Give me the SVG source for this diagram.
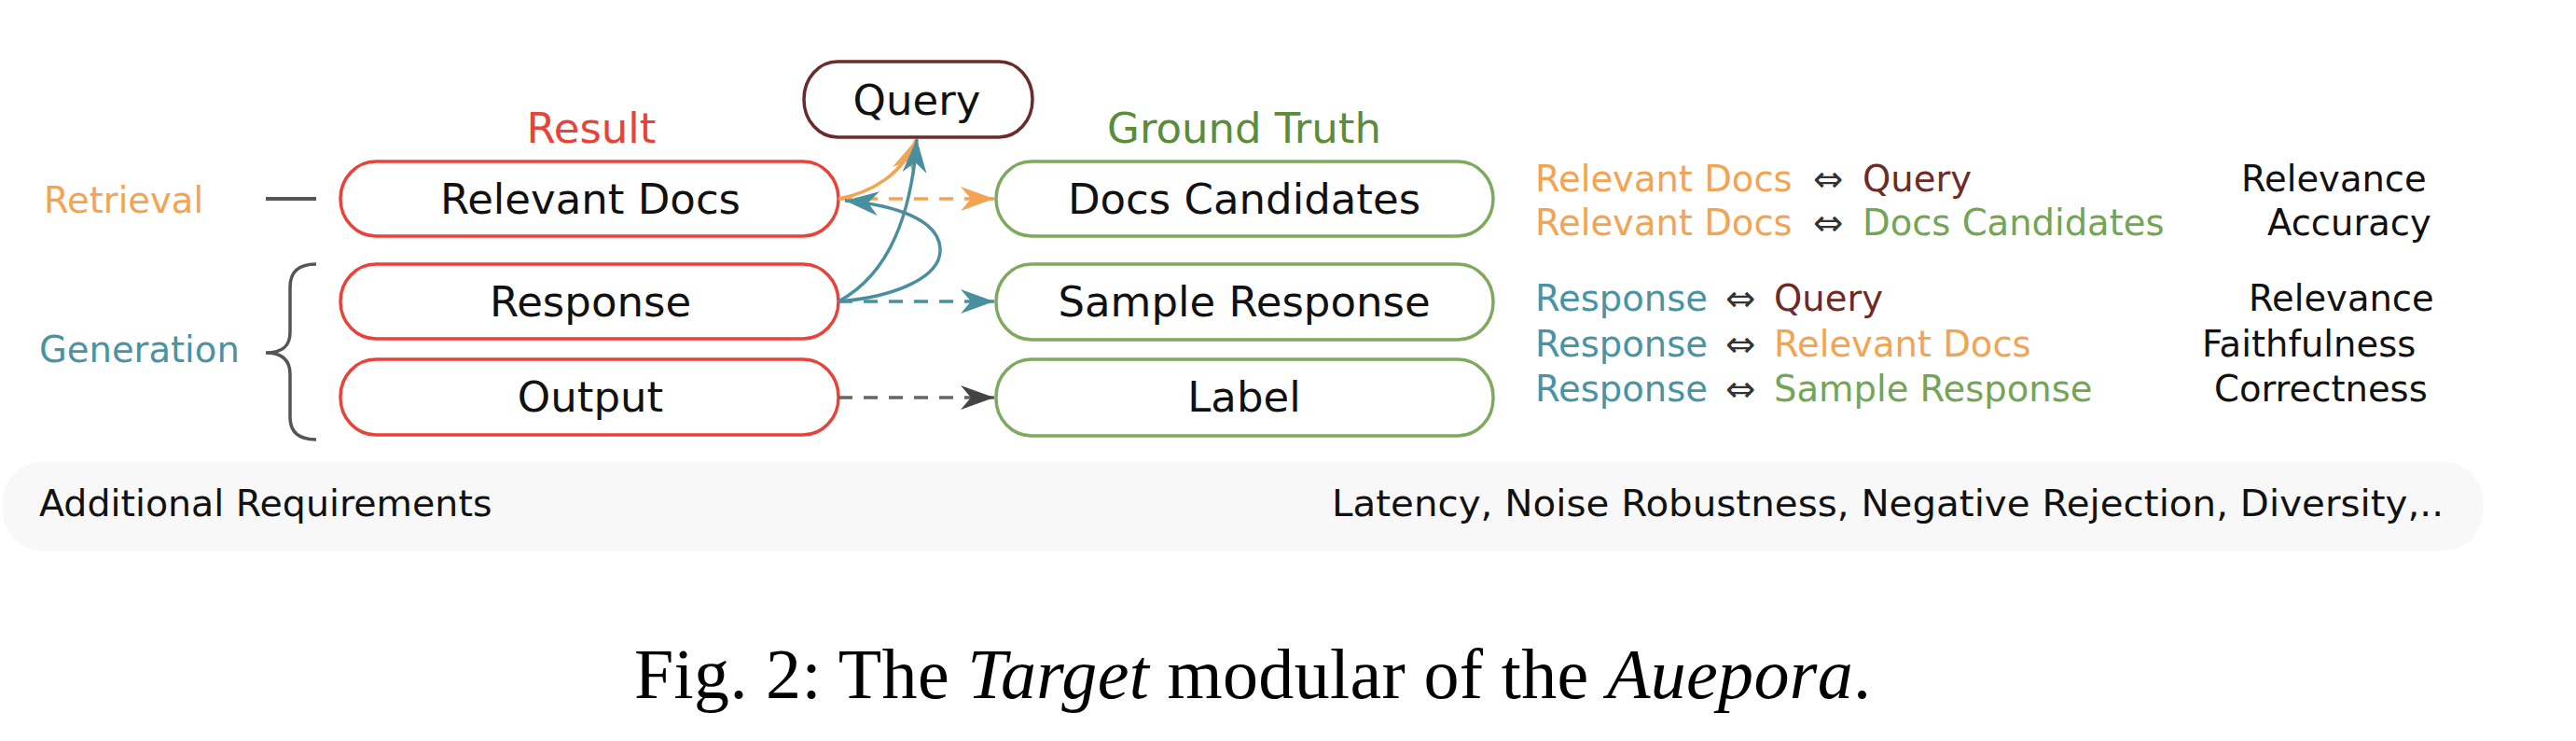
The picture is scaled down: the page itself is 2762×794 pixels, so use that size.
<svg xmlns="http://www.w3.org/2000/svg" width="2762" height="794" viewBox="0 0 2762 794">
<style>
.res{fill:#fff;stroke:#E8433A;stroke-width:3.5}
.gt{fill:#fff;stroke:#7FA95C;stroke-width:3.5}
.q{fill:#fff;stroke:#6A2C2A;stroke-width:3.5}
.lbl{font-family:"DejaVu Sans","Liberation Sans",sans-serif;font-size:45px;fill:#111;text-anchor:middle}
.sm{font-family:"DejaVu Sans","Liberation Sans",sans-serif;font-size:38.5px}
.or{fill:#F2A452}.te{fill:#4A93A3}.br{fill:#6E2A26}.gr{fill:#74A555}.bk{fill:#111}.ar{fill:#333}
.cap{font-family:"Liberation Serif","Times New Roman",serif;font-size:76px;fill:#000}
.conn{fill:none;stroke-width:3.5}
.dash{stroke-dasharray:15 12}
</style>
<defs>
<marker id="mOr" markerUnits="userSpaceOnUse" viewBox="0 0 36 26" refX="36" refY="13" markerWidth="36" markerHeight="26" orient="auto"><path d="M0,0 L36,13 L0,26 L11,13 Z" fill="#F2A452"/></marker>
<marker id="mTe" markerUnits="userSpaceOnUse" viewBox="0 0 36 26" refX="36" refY="13" markerWidth="36" markerHeight="26" orient="auto"><path d="M0,0 L36,13 L0,26 L11,13 Z" fill="#4A8FA0"/></marker>
<marker id="mGy" markerUnits="userSpaceOnUse" viewBox="0 0 36 26" refX="36" refY="13" markerWidth="36" markerHeight="26" orient="auto"><path d="M0,0 L36,13 L0,26 L11,13 Z" fill="#444"/></marker>
</defs>
<rect width="2762" height="794" fill="#fff"/>

<g id="additional-requirements">
<rect x="3" y="495" width="2659" height="95" rx="42" ry="42" fill="#F8F8F8"/>
<text class="sm bk" x="42" y="553" style="font-size:39.5px">Additional Requirements</text>
<text class="sm bk" x="2620" y="553" text-anchor="end" style="font-size:39.5px" textLength="1192" lengthAdjust="spacingAndGlyphs">Latency, Noise Robustness, Negative Rejection, Diversity,..</text>
</g>

<g id="stage-labels">
<text class="sm or" x="47" y="228">Retrieval</text>
<line x1="285" y1="213" x2="339" y2="213" stroke="#555" stroke-width="4"/>
<text class="sm te" x="42" y="388">Generation</text>
<path d="M339,283 C320,283 311,291 311,308 L311,356 C311,371 303,378 285,378 C303,378 311,386 311,401 L311,447 C311,463 320,471 339,471" fill="none" stroke="#555" stroke-width="3.5"/>
</g>

<g id="result-title"><text class="lbl" x="634" y="153" style="fill:#E8433A">Result</text></g>
<g id="ground-truth-title"><text class="lbl" x="1334" y="153" style="fill:#5B8C3C">Ground Truth</text></g>

<g id="query"><rect class="q" x="862" y="66" width="245" height="81" rx="36" ry="40"/><text class="lbl" x="983" y="123">Query</text></g>

<g id="relevant-docs"><rect class="res" x="365" y="173" width="534" height="80" rx="38" ry="40"/><text class="lbl" x="633" y="229">Relevant Docs</text></g>
<g id="response"><rect class="res" x="365" y="283" width="534" height="80" rx="38" ry="40"/><text class="lbl" x="633" y="339">Response</text></g>
<g id="output"><rect class="res" x="365" y="385" width="534" height="81" rx="38" ry="40"/><text class="lbl" x="633" y="441">Output</text></g>

<g id="docs-candidates"><rect class="gt" x="1068" y="173" width="533" height="80" rx="38" ry="40"/><text class="lbl" x="1334" y="229">Docs Candidates</text></g>
<g id="sample-response"><rect class="gt" x="1068" y="283" width="533" height="81" rx="38" ry="40"/><text class="lbl" x="1334" y="339">Sample Response</text></g>
<g id="label"><rect class="gt" x="1068" y="385" width="533" height="82" rx="38" ry="40"/><text class="lbl" x="1334" y="441">Label</text></g>

<g id="connectors">
<path class="conn dash" d="M899,213 L1066,213" stroke="#F2A452" marker-end="url(#mOr)"/>
<path class="conn" d="M899,213 C936,206 968,186 982,150" stroke="#F2A452" marker-end="url(#mOr)"/>
<path class="conn dash" d="M899,323 L1066,323" stroke="#4A8FA0" marker-end="url(#mTe)"/>
<path class="conn" d="M899,323 C942,300 976,250 983,149" stroke="#4A8FA0" marker-end="url(#mTe)"/>
<path class="conn" d="M899,323 C962,318 1010,296 1008,266 C1006,236 962,220 906,215" stroke="#4A8FA0" marker-end="url(#mTe)"/>
<path class="conn dash" d="M899,426 L1066,426" stroke="#666" marker-end="url(#mGy)"/>
</g>

<g id="metrics">
<text class="sm" y="205"><tspan class="or" x="1646">Relevant Docs</tspan><tspan class="ar" x="1944">⇔</tspan><tspan class="br" x="1997">Query</tspan></text>
<text class="sm" y="252"><tspan class="or" x="1646">Relevant Docs</tspan><tspan class="ar" x="1944">⇔</tspan><tspan class="gr" x="1997">Docs Candidates</tspan></text>
<text class="sm" y="333"><tspan class="te" x="1646">Response</tspan><tspan class="ar" x="1850">⇔</tspan><tspan class="br" x="1902">Query</tspan></text>
<text class="sm" y="382"><tspan class="te" x="1646">Response</tspan><tspan class="ar" x="1850">⇔</tspan><tspan class="or" x="1902">Relevant Docs</tspan></text>
<text class="sm" y="430"><tspan class="te" x="1646">Response</tspan><tspan class="ar" x="1850">⇔</tspan><tspan class="gr" x="1902">Sample Response</tspan></text>
<text class="sm bk" x="2403" y="205">Relevance</text>
<text class="sm bk" x="2431" y="252">Accuracy</text>
<text class="sm bk" x="2411" y="333">Relevance</text>
<text class="sm bk" x="2361" y="382">Faithfulness</text>
<text class="sm bk" x="2374" y="430">Correctness</text>
</g>

<g id="caption"><text class="cap" x="680" y="748" textLength="1326" lengthAdjust="spacing">Fig. 2: The <tspan font-style="italic">Target</tspan> modular of the <tspan font-style="italic">Auepora</tspan>.</text></g>
</svg>
